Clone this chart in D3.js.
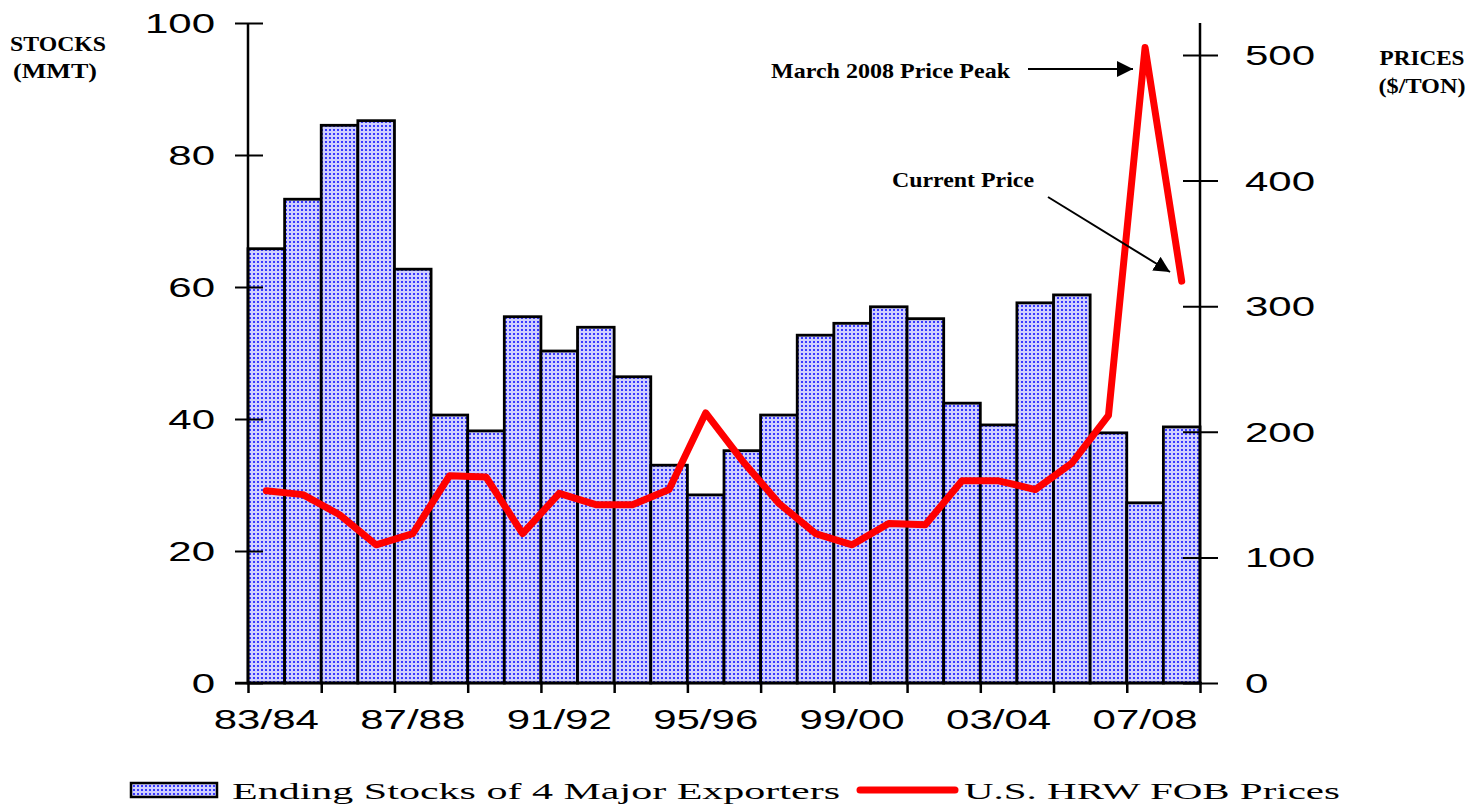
<!DOCTYPE html>
<html>
<head>
<meta charset="utf-8">
<script src="https://cdn.jsdelivr.net/npm/d3@7"></script>
<style>
  html, body { margin: 0; padding: 0; background: #ffffff; }
  svg { display: block; }
</style>
</head>
<body>
<div id="chart"></div>
<script>
// ---------- data ----------
const seasons = ["83/84","84/85","85/86","86/87","87/88","88/89","89/90","90/91","91/92","92/93",
                 "93/94","94/95","95/96","96/97","97/98","98/99","99/00","00/01","01/02","02/03",
                 "03/04","04/05","05/06","06/07","07/08","08/09"];
const stocks = [65.8, 73.3, 84.5, 85.2, 62.7, 40.6, 38.2, 55.5, 50.3, 53.9,
                46.4, 33.0, 28.5, 35.2, 40.6, 52.7, 54.5, 57.0, 55.2, 42.4,
                39.1, 57.6, 58.8, 37.9, 27.3, 38.8];
const prices = [153, 150, 134, 110, 119, 165, 164, 119, 151, 142,
                142, 154, 215, 177, 143, 119, 110, 127, 126, 161,
                161, 154, 175, 213, 506, 320];
const xLabels = ["83/84","87/88","91/92","95/96","99/00","03/04","07/08"];
const leftTicks = [0, 20, 40, 60, 80, 100];
const rightTicks = [0, 100, 200, 300, 400, 500];
const seriesNames = ["Ending Stocks of 4 Major Exporters", "U.S. HRW FOB Prices"];

// ---------- layout ----------
const W = 1482, H = 805;
const pLeft = 248, pRight = 1200, pTop = 23, pBottom = 683;

const svg = d3.select("#chart").append("svg").attr("width", W).attr("height", H);

const x = d3.scaleBand().domain(seasons).range([pLeft, pRight]).padding(0);
const xi = d3.scaleLinear().domain([0, seasons.length]).range([pLeft, pRight]);
const yL = d3.scaleLinear().domain([0, 100]).range([pBottom, pTop]);
const yR = d3.scaleLinear().domain([0, 525.5]).range([pBottom, pTop]);

// pattern
const defs = svg.append("defs");
const pat = defs.append("pattern").attr("id", "dots")
  .attr("patternUnits", "userSpaceOnUse").attr("width", 4).attr("height", 4);
pat.append("rect").attr("width", 4).attr("height", 4).attr("fill", "#cfcfff");
pat.append("rect").attr("x", 1).attr("y", 1).attr("width", 2).attr("height", 2).attr("fill", "#3838ff");

const mk = defs.append("marker").attr("id", "arrow")
  .attr("viewBox", "0 0 10 10").attr("refX", 10).attr("refY", 5)
  .attr("markerWidth", 16).attr("markerHeight", 16).attr("markerUnits", "userSpaceOnUse")
  .attr("orient", "auto");
mk.append("path").attr("d", "M0,0 L10,5 L0,10 Z").attr("fill", "#000");

// bars
svg.append("g").selectAll("rect").data(seasons).join("rect")
  .attr("x", d => x(d))
  .attr("y", (d, i) => yL(stocks[i]))
  .attr("width", x.bandwidth())
  .attr("height", (d, i) => yL(0) - yL(stocks[i]))
  .attr("fill", "url(#dots)")
  .attr("stroke", "#000")
  .attr("stroke-width", 2.8);

// axes
const tickFont = "'Liberation Sans', Arial, sans-serif";
const sx = 1.5;

// left axis
const gL = svg.append("g").attr("transform", `translate(${pLeft},0)`)
  .call(d3.axisLeft(yL).tickValues(leftTicks).tickSize(13));
gL.select(".domain").attr("d", `M0,${pTop}V${pBottom}`).attr("stroke", "#000").attr("stroke-width", 2.5);
gL.selectAll(".tick line").attr("x1", -13).attr("x2", 15).attr("stroke", "#000").attr("stroke-width", 2);
gL.selectAll(".tick text")
  .attr("x", 0).attr("dy", "0.34em")
  .attr("transform", `translate(-33,0) scale(${sx},1)`)
  .attr("text-anchor", "end")
  .style("font-family", tickFont).style("font-size", "28px").attr("fill", "#000");

// right axis
const gR = svg.append("g").attr("transform", `translate(${pRight},0)`)
  .call(d3.axisRight(yR).tickValues(rightTicks).tickSize(18));
gR.select(".domain").attr("d", `M0,${pTop}V${pBottom}`).attr("stroke", "#000").attr("stroke-width", 2.5);
gR.selectAll(".tick line").attr("x1", -17).attr("x2", 18).attr("stroke", "#000").attr("stroke-width", 2);
gR.selectAll(".tick text")
  .attr("x", 0).attr("dy", "0.34em")
  .attr("transform", `translate(45,0) scale(${sx},1)`)
  .attr("text-anchor", "start")
  .style("font-family", tickFont).style("font-size", "28px").attr("fill", "#000");

// bottom axis ticks
const tickIdx = d3.range(0, seasons.length + 1, 2);
const gB = svg.append("g").attr("transform", `translate(0,${pBottom})`)
  .call(d3.axisBottom(xi).tickValues(tickIdx).tickSize(10).tickFormat(""));
gB.select(".domain").attr("d", `M235,0H${pRight + 2}`).attr("stroke", "#000").attr("stroke-width", 2.5);
gB.selectAll(".tick line").attr("stroke", "#000").attr("stroke-width", 2.5);

// bottom labels
svg.append("g").selectAll("text").data(xLabels).join("text")
  .attr("transform", d => `translate(${x(d) + x.bandwidth() / 2},729) scale(${sx},1)`)
  .attr("text-anchor", "middle")
  .style("font-family", tickFont).style("font-size", "28px").attr("fill", "#000")
  .text(d => d);

// price line
const line = d3.line()
  .x((d, i) => x(seasons[i]) + x.bandwidth() / 2)
  .y(d => yR(d));
svg.append("path").datum(prices)
  .attr("d", line)
  .attr("fill", "none")
  .attr("stroke", "#ff0000")
  .attr("stroke-width", 7)
  .attr("stroke-linejoin", "round")
  .attr("stroke-linecap", "round");

// axis titles
const serif = "'Liberation Serif', 'Times New Roman', serif";
function boldText(txt, cx, y, len, size) {
  svg.append("text").attr("x", cx).attr("y", y)
    .attr("text-anchor", "middle")
    .attr("textLength", len).attr("lengthAdjust", "spacingAndGlyphs")
    .style("font-family", serif).style("font-weight", "bold").style("font-size", size + "px")
    .attr("fill", "#000").text(txt);
}
boldText("STOCKS", 58, 51, 96, 22);
boldText("(MMT)", 55, 78, 84, 22);
boldText("PRICES", 1422, 65, 85, 22);
boldText("($/TON)", 1422, 93, 87, 22);

// annotations
svg.append("text").attr("x", 771).attr("y", 78)
  .attr("textLength", 239).attr("lengthAdjust", "spacingAndGlyphs")
  .style("font-family", serif).style("font-weight", "bold").style("font-size", "22px")
  .attr("fill", "#000").text("March 2008 Price Peak");
svg.append("line").attr("x1", 1028).attr("y1", 69).attr("x2", 1133).attr("y2", 69)
  .attr("stroke", "#000").attr("stroke-width", 2).attr("marker-end", "url(#arrow)");

svg.append("text").attr("x", 892).attr("y", 187)
  .attr("textLength", 142).attr("lengthAdjust", "spacingAndGlyphs")
  .style("font-family", serif).style("font-weight", "bold").style("font-size", "22px")
  .attr("fill", "#000").text("Current Price");
svg.append("line").attr("x1", 1048).attr("y1", 197).attr("x2", 1170).attr("y2", 272)
  .attr("stroke", "#000").attr("stroke-width", 2).attr("marker-end", "url(#arrow)");

// legend
const lg = svg.append("g");
lg.append("rect").attr("x", 131).attr("y", 783).attr("width", 86).attr("height", 14)
  .attr("fill", "url(#dots)").attr("stroke", "#000").attr("stroke-width", 2.5);
lg.append("text").attr("x", 232).attr("y", 799)
  .attr("textLength", 608).attr("lengthAdjust", "spacingAndGlyphs")
  .style("font-family", serif).style("font-size", "23px").attr("fill", "#000")
  .text(seriesNames[0]);
lg.append("line").attr("x1", 860).attr("y1", 790).attr("x2", 955).attr("y2", 790)
  .attr("stroke", "#ff0000").attr("stroke-width", 7).attr("stroke-linecap", "round");
lg.append("text").attr("x", 964).attr("y", 799)
  .attr("textLength", 376).attr("lengthAdjust", "spacingAndGlyphs")
  .style("font-family", serif).style("font-size", "23px").attr("fill", "#000")
  .text(seriesNames[1]);
</script>
</body>
</html>
